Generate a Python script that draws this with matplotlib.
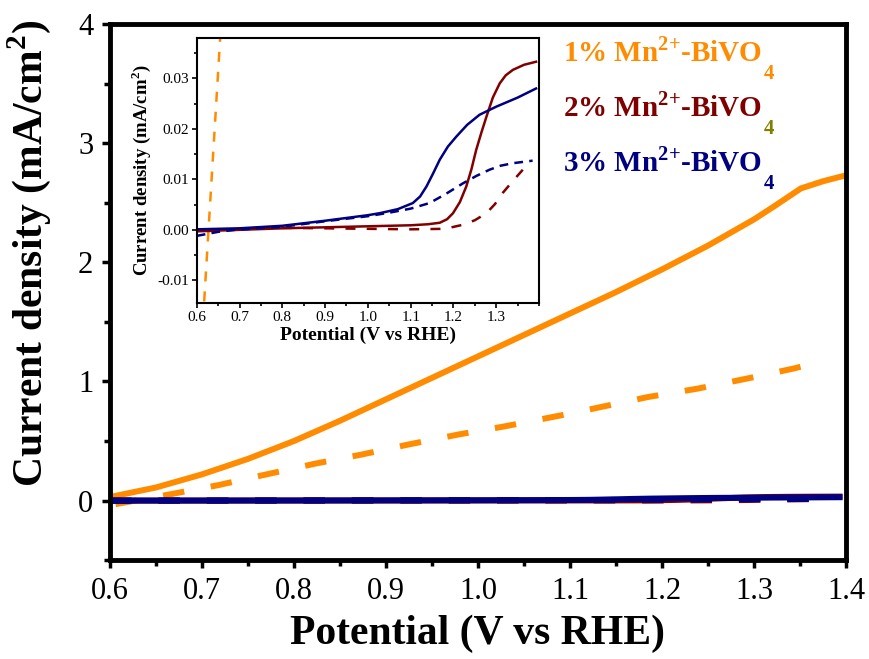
import matplotlib
matplotlib.use("Agg")
import matplotlib.pyplot as plt
from matplotlib.ticker import MultipleLocator

plt.rcParams["font.family"] = ["Liberation Serif", "DejaVu Serif"]
plt.rcParams["mathtext.fontset"] = "custom"
plt.rcParams["mathtext.rm"] = "Liberation Serif:bold"
plt.rcParams["mathtext.bf"] = "Liberation Serif:bold"
plt.rcParams["axes.unicode_minus"] = False

ORANGE = "#FF8C00"
RED = "#800000"
NAVY = "#000080"
OLIVE = "#808000"

# ── data ─────────────────────────────────────────────
# 1% Mn2+-BiVO4, light (solid) and dark (dashed)
x1_light = [0.600, 0.650, 0.700, 0.750, 0.800, 0.850, 0.900, 0.950, 1.000, 1.050,
            1.100, 1.150, 1.200, 1.250, 1.300, 1.322, 1.351, 1.375, 1.400]
y1_light = [0.030, 0.110, 0.220, 0.350, 0.500, 0.670, 0.850, 1.030, 1.210, 1.390,
            1.570, 1.750, 1.940, 2.140, 2.360, 2.470, 2.620, 2.680, 2.730]
x1_dark = [0.606, 0.667, 0.718, 0.769, 0.823, 0.874, 0.924, 0.979, 1.027, 1.100,
           1.184, 1.239, 1.293, 1.344, 1.354]
y1_dark = [-0.030, 0.055, 0.130, 0.218, 0.310, 0.387, 0.470, 0.555, 0.620, 0.730,
           0.868, 0.940, 1.025, 1.110, 1.130]

# 2% Mn2+-BiVO4
x2_light = [0.60, 0.70, 0.80, 0.90, 1.00, 1.10, 1.14, 1.168, 1.185, 1.199, 1.215,
            1.230, 1.242, 1.253, 1.265, 1.277, 1.292, 1.308, 1.322, 1.339, 1.365, 1.393]
y2_light = [-0.0003, 0.0000, 0.0003, 0.0005, 0.0007, 0.0009, 0.0011, 0.0014, 0.0021,
            0.0033, 0.0055, 0.0086, 0.0120, 0.0158, 0.0192, 0.0224, 0.0262, 0.0290,
            0.0306, 0.0317, 0.0327, 0.0333]
x2_dark = [0.60, 0.70, 0.80, 0.90, 1.00, 1.10, 1.18, 1.222, 1.250, 1.277, 1.297,
           1.315, 1.338, 1.362]
y2_dark = [0.0000, 0.0001, 0.0004, 0.0003, 0.0002, 0.0001, 0.0002, 0.0010, 0.0019,
           0.0033, 0.0051, 0.0073, 0.0096, 0.0119]

# 3% Mn2+-BiVO4
x3_light = [0.60, 0.70, 0.80, 0.90, 1.00, 1.028, 1.070, 1.105, 1.122, 1.137, 1.152,
            1.168, 1.187, 1.207, 1.232, 1.261, 1.300, 1.350, 1.393]
y3_light = [0.0001, 0.0003, 0.0008, 0.0018, 0.0029, 0.0033, 0.0041, 0.0053, 0.0066,
            0.0086, 0.0111, 0.0139, 0.0165, 0.0185, 0.0208, 0.0228, 0.0244, 0.0262,
            0.0280]
x3_dark = [0.60, 0.65, 0.70, 0.80, 0.90, 1.00, 1.05, 1.10, 1.144, 1.180, 1.222,
           1.254, 1.284, 1.310, 1.339, 1.385]
y3_dark = [-0.0012, -0.0004, 0.0001, 0.0006, 0.0017, 0.0027, 0.0034, 0.0042, 0.0053,
           0.0070, 0.0092, 0.0107, 0.0119, 0.0127, 0.0132, 0.0137]

labels = ["1%", "2%", "3%"]
label_colors = [ORANGE, RED, NAVY]
sub_colors = [ORANGE, OLIVE, NAVY]

# ── figure ───────────────────────────────────────────
fig = plt.figure(figsize=(8.69, 6.59), dpi=100)
ax = fig.add_axes([0.1266, 0.150, 0.8469, 0.8136])

ax.plot(x1_light, y1_light, color=ORANGE, lw=4.3)
ax.plot(x1_dark, y1_dark, color=ORANGE, lw=4.3, dashes=(3.6, 4.5))
ax.plot(x2_light, y2_light, color=RED, lw=4.3)
ax.plot(x2_dark, y2_dark, color=RED, lw=4.3, dashes=(3.6, 4.5))
ax.plot(x3_dark, y3_dark, color=NAVY, lw=4.3, dashes=(3.6, 4.5))
ax.plot(x3_light, y3_light, color=NAVY, lw=4.3)

ax.set_xlim(0.6, 1.4)
ax.set_ylim(-0.5, 4)
ax.xaxis.set_minor_locator(MultipleLocator(0.05))
ax.yaxis.set_minor_locator(MultipleLocator(0.5))
ax.set_xticks([0.6, 0.7, 0.8, 0.9, 1.0, 1.1, 1.2, 1.3, 1.4])
ax.set_xticklabels(["0.6", "0.7", "0.8", "0.9", "1.0", "1.1", "1.2", "1.3", "1.4"])
ax.set_yticks([0, 1, 2, 3, 4])
ax.tick_params(which="major", direction="out", length=6, width=2.5, labelsize=22, pad=6)
ax.tick_params(which="minor", direction="out", length=4, width=2.5)
for s in ax.spines.values():
    s.set_linewidth(3.5)

ax.set_xlabel("Potential (V vs RHE)", fontsize=30, fontweight="bold", labelpad=6)
ax.set_ylabel("Current density (mA/cm$^{2}$)", fontsize=30, fontweight="bold")
ax.yaxis.set_label_coords(-0.078, 0.572)

# sample labels
for i, (lab, c, sc) in enumerate(zip(labels, label_colors, sub_colors)):
    t = fig.text(563 / 869, 1 - (52 + 55 * i) / 659,
                 lab + r" Mn$^{\mathbf{2{+}}}$-BiVO", color=c, fontsize=21,
                 fontweight="bold", va="center", ha="left")
    ax.annotate("4", xy=(1, 0), xycoords=t, xytext=(1, -5), textcoords="offset points",
                color=sc, fontsize=15, fontweight="bold", ha="left", va="center")

# ── inset ────────────────────────────────────────────
ins = fig.add_axes([0.2264, 0.5402, 0.3939, 0.4021])
ins.plot(x1_dark, y1_dark, color=ORANGE, lw=1.8, dashes=(4, 4))
ins.plot(x2_light, y2_light, color=RED, lw=1.8)
ins.plot(x2_dark, y2_dark, color=RED, lw=1.8, dashes=(4, 4.5))
ins.plot(x3_light, y3_light, color=NAVY, lw=1.8)
ins.plot(x3_dark, y3_dark, color=NAVY, lw=1.8, dashes=(3.5, 2.5))
ins.set_xlim(0.6, 1.4)
ins.set_ylim(-0.0145, 0.038)
ins.set_xticks([0.6, 0.7, 0.8, 0.9, 1.0, 1.1, 1.2, 1.3])
ins.set_xticklabels(["0.6", "0.7", "0.8", "0.9", "1.0", "1.1", "1.2", "1.3"])
ins.xaxis.set_minor_locator(MultipleLocator(0.05))
ins.set_yticks([-0.01, 0.0, 0.01, 0.02, 0.03])
ins.set_yticklabels(["-0.01", "0.00", "0.01", "0.02", "0.03"])
ins.yaxis.set_minor_locator(MultipleLocator(0.005))
ins.tick_params(which="major", direction="out", length=3.5, width=1.2, labelsize=11, pad=2)
ins.tick_params(which="minor", direction="out", length=2, width=1.2)
for s in ins.spines.values():
    s.set_linewidth(1.5)
ins.set_xlabel("Potential (V vs RHE)", fontsize=14, fontweight="bold", labelpad=2)
ins.set_ylabel("Current density (mA/cm$^{2}$)", fontsize=13.5, fontweight="bold", labelpad=3)

fig.savefig("out.png", dpi=100)
